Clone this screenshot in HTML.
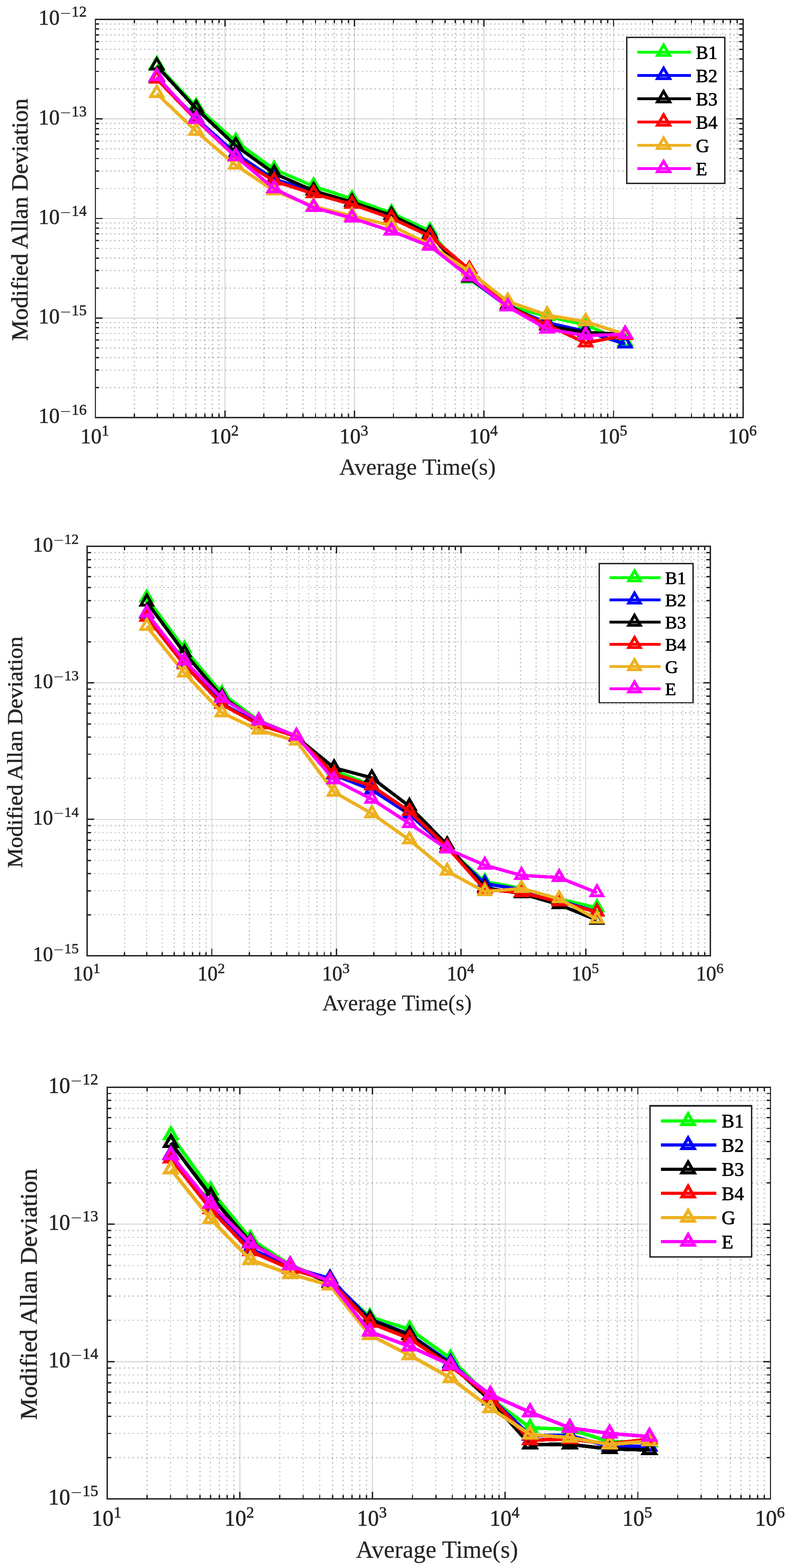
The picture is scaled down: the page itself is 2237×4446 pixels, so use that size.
<!DOCTYPE html>
<html lang="en">
<head>
<meta charset="utf-8">
<title>Modified Allan Deviation</title>
<style>
html,body{margin:0;padding:0;background:#fff;}
body{width:2237px;height:4446px;overflow:hidden;}
svg{display:block;}
</style>
</head>
<body>
<svg width="2237" height="4446" viewBox="0 0 2237 4446">
<rect width="2237" height="4446" fill="#fff"/>
<g shape-rendering="crispEdges">
<g fill="none" stroke="#1a1a1a" stroke-opacity="0.25" stroke-width="3.6">
<path stroke-dasharray="4 8.08" stroke-dashoffset="-1.97" d="M381.05 55V1184M445.72 55V1184M491.6 55V1184M527.19 55V1184M556.27 55V1184M580.85 55V1184M602.15 55V1184M620.94 55V1184M748.29 55V1184M812.96 55V1184M858.84 55V1184M894.43 55V1184M923.51 55V1184M948.09 55V1184M969.39 55V1184M988.18 55V1184M1115.53 55V1184M1180.2 55V1184M1226.08 55V1184M1261.67 55V1184M1290.75 55V1184M1315.33 55V1184M1336.63 55V1184M1355.42 55V1184M1482.77 55V1184M1547.44 55V1184M1593.32 55V1184M1628.91 55V1184M1657.99 55V1184M1682.57 55V1184M1703.87 55V1184M1722.66 55V1184M1850.01 55V1184M1914.68 55V1184M1960.56 55V1184M1996.15 55V1184M2025.23 55V1184M2049.81 55V1184M2071.11 55V1184M2089.9 55V1184"/>
<path stroke-dasharray="4 8.1" stroke-dashoffset="-5.3" d="M270.5 1099.03H2106.7M270.5 1049.33H2106.7M270.5 1014.07H2106.7M270.5 986.72H2106.7M270.5 964.37H2106.7M270.5 945.47H2106.7M270.5 929.1H2106.7M270.5 914.67H2106.7M270.5 816.78H2106.7M270.5 767.08H2106.7M270.5 731.82H2106.7M270.5 704.47H2106.7M270.5 682.12H2106.7M270.5 663.22H2106.7M270.5 646.85H2106.7M270.5 632.42H2106.7M270.5 534.53H2106.7M270.5 484.83H2106.7M270.5 449.57H2106.7M270.5 422.22H2106.7M270.5 399.87H2106.7M270.5 380.97H2106.7M270.5 364.6H2106.7M270.5 350.17H2106.7M270.5 252.28H2106.7M270.5 202.58H2106.7M270.5 167.32H2106.7M270.5 139.97H2106.7M270.5 117.62H2106.7M270.5 98.72H2106.7M270.5 82.35H2106.7M270.5 67.92H2106.7"/>
</g>
<g fill="none" stroke="#262626" stroke-opacity="0.15" stroke-width="3.6"><path d="M270.5 55V1184M637.74 55V1184M1004.98 55V1184M1372.22 55V1184M1739.46 55V1184M2106.7 55V1184"/><path d="M270.5 55H2106.7M270.5 337.25H2106.7M270.5 619.5H2106.7M270.5 901.75H2106.7M270.5 1184H2106.7"/></g>
<g fill="none" stroke-width="8.2" stroke-miterlimit="10">
<g stroke="#00ff00">
<polyline stroke-width="9.4" stroke-linejoin="round" points="444.6,184.1 556.2,302 668.4,401.05 777.2,480.1 889,528 998,564.2 1109.8,604 1219,655 1330.8,791.4 1439.65,867.8 1551.5,897.2 1660.5,921 1772.5,969.5"/>
<path stroke-linejoin="miter" d="M444.6 163.2L462.1 192.76L427.1 192.76ZM556.2 281.1L573.7 310.66L538.7 310.66ZM668.4 380.15L685.9 409.71L650.9 409.71ZM777.2 459.2L794.7 488.76L759.7 488.76ZM889 507.1L906.5 536.66L871.5 536.66ZM998 543.3L1015.5 572.86L980.5 572.86ZM1109.8 583.1L1127.3 612.66L1092.3 612.66ZM1219 634.1L1236.5 663.66L1201.5 663.66ZM1330.8 770.5L1348.3 800.06L1313.3 800.06ZM1439.65 846.9L1457.15 876.46L1422.15 876.46ZM1551.5 876.3L1569 905.86L1534 905.86ZM1660.5 900.1L1678 929.66L1643 929.66ZM1772.5 948.6L1790 978.16L1755 978.16Z"/>
</g>
<g stroke="#0000ff">
<polyline stroke-width="9.4" stroke-linejoin="round" points="444.6,220 556.2,335.6 668.4,435.5 777.2,508.5 889,541.5 998,574.5 1109.8,611 1219,663 1330.8,788.5 1439.65,870 1551.5,915.1 1660.5,939.5 1772.5,975.4"/>
<path stroke-linejoin="miter" d="M444.6 199.1L462.1 228.66L427.1 228.66ZM556.2 314.7L573.7 344.26L538.7 344.26ZM668.4 414.6L685.9 444.16L650.9 444.16ZM777.2 487.6L794.7 517.16L759.7 517.16ZM889 520.6L906.5 550.16L871.5 550.16ZM998 553.6L1015.5 583.16L980.5 583.16ZM1109.8 590.1L1127.3 619.66L1092.3 619.66ZM1219 642.1L1236.5 671.66L1201.5 671.66ZM1330.8 767.6L1348.3 797.16L1313.3 797.16ZM1439.65 849.1L1457.15 878.66L1422.15 878.66ZM1551.5 894.2L1569 923.76L1534 923.76ZM1660.5 918.6L1678 948.16L1643 948.16ZM1772.5 954.5L1790 984.06L1755 984.06Z"/>
</g>
<g stroke="#000000">
<polyline stroke-width="9.4" stroke-linejoin="round" points="444.6,187.3 556.2,308.1 668.4,413.2 777.2,491.7 889,540.8 998,573.5 1109.8,610.5 1219,664.3 1330.8,788.4 1439.65,864.5 1551.5,924.4 1660.5,942.5 1772.5,948"/>
<path stroke-linejoin="miter" d="M444.6 166.4L462.1 195.96L427.1 195.96ZM556.2 287.2L573.7 316.76L538.7 316.76ZM668.4 392.3L685.9 421.86L650.9 421.86ZM777.2 470.8L794.7 500.36L759.7 500.36ZM889 519.9L906.5 549.46L871.5 549.46ZM998 552.6L1015.5 582.16L980.5 582.16ZM1109.8 589.6L1127.3 619.16L1092.3 619.16ZM1219 643.4L1236.5 672.96L1201.5 672.96ZM1330.8 767.5L1348.3 797.06L1313.3 797.06ZM1439.65 843.6L1457.15 873.16L1422.15 873.16ZM1551.5 903.5L1569 933.06L1534 933.06ZM1660.5 921.6L1678 951.16L1643 951.16ZM1772.5 927.1L1790 956.66L1755 956.66Z"/>
</g>
<g stroke="#ff0000">
<polyline stroke-width="9.4" stroke-linejoin="round" points="444.6,224.1 556.2,339.7 668.4,445 777.2,513.5 889,549.5 998,579.5 1109.8,618.6 1219,669.8 1330.8,764.2 1439.65,869.3 1551.5,921.5 1660.5,972.3 1772.5,951"/>
<path stroke-linejoin="miter" d="M444.6 203.2L462.1 232.76L427.1 232.76ZM556.2 318.8L573.7 348.36L538.7 348.36ZM668.4 424.1L685.9 453.66L650.9 453.66ZM777.2 492.6L794.7 522.16L759.7 522.16ZM889 528.6L906.5 558.16L871.5 558.16ZM998 558.6L1015.5 588.16L980.5 588.16ZM1109.8 597.7L1127.3 627.26L1092.3 627.26ZM1219 648.9L1236.5 678.46L1201.5 678.46ZM1330.8 743.3L1348.3 772.86L1313.3 772.86ZM1439.65 848.4L1457.15 877.96L1422.15 877.96ZM1551.5 900.6L1569 930.16L1534 930.16ZM1660.5 951.4L1678 980.96L1643 980.96ZM1772.5 930.1L1790 959.66L1755 959.66Z"/>
</g>
<g stroke="#edb120">
<polyline stroke-width="9.4" stroke-linejoin="round" points="444.6,265.5 556.2,372.3 668.4,468.2 777.2,541 889,585.2 998,612.3 1109.8,639.8 1219,694 1330.8,770.1 1439.65,854.5 1551.5,893.5 1660.5,912.1 1772.5,948"/>
<path stroke-linejoin="miter" d="M444.6 244.6L462.1 274.16L427.1 274.16ZM556.2 351.4L573.7 380.96L538.7 380.96ZM668.4 447.3L685.9 476.86L650.9 476.86ZM777.2 520.1L794.7 549.66L759.7 549.66ZM889 564.3L906.5 593.86L871.5 593.86ZM998 591.4L1015.5 620.96L980.5 620.96ZM1109.8 618.9L1127.3 648.46L1092.3 648.46ZM1219 673.1L1236.5 702.66L1201.5 702.66ZM1330.8 749.2L1348.3 778.76L1313.3 778.76ZM1439.65 833.6L1457.15 863.16L1422.15 863.16ZM1551.5 872.6L1569 902.16L1534 902.16ZM1660.5 891.2L1678 920.76L1643 920.76ZM1772.5 927.1L1790 956.66L1755 956.66Z"/>
</g>
<g stroke="#ff00ff">
<polyline stroke-width="9.4" stroke-linejoin="round" points="444.6,217.3 556.2,338.2 668.4,444 777.2,535 889,588.6 998,618.5 1109.8,655 1219,697.8 1330.8,785.2 1439.65,869.8 1551.5,933.1 1660.5,951.3 1772.5,948"/>
<path stroke-linejoin="miter" d="M444.6 196.4L462.1 225.96L427.1 225.96ZM556.2 317.3L573.7 346.86L538.7 346.86ZM668.4 423.1L685.9 452.66L650.9 452.66ZM777.2 514.1L794.7 543.66L759.7 543.66ZM889 567.7L906.5 597.26L871.5 597.26ZM998 597.6L1015.5 627.16L980.5 627.16ZM1109.8 634.1L1127.3 663.66L1092.3 663.66ZM1219 676.9L1236.5 706.46L1201.5 706.46ZM1330.8 764.3L1348.3 793.86L1313.3 793.86ZM1439.65 848.9L1457.15 878.46L1422.15 878.46ZM1551.5 912.2L1569 941.76L1534 941.76ZM1660.5 930.4L1678 959.96L1643 959.96ZM1772.5 927.1L1790 956.66L1755 956.66Z"/>
</g>
</g>
<path fill="none" stroke="#262626" stroke-width="3.8" d="M381.05 1184v-10.6M381.05 55v10.6M445.72 1184v-10.6M445.72 55v10.6M491.6 1184v-10.6M491.6 55v10.6M527.19 1184v-10.6M527.19 55v10.6M556.27 1184v-10.6M556.27 55v10.6M580.85 1184v-10.6M580.85 55v10.6M602.15 1184v-10.6M602.15 55v10.6M620.94 1184v-10.6M620.94 55v10.6M637.74 1184v-20M637.74 55v20M748.29 1184v-10.6M748.29 55v10.6M812.96 1184v-10.6M812.96 55v10.6M858.84 1184v-10.6M858.84 55v10.6M894.43 1184v-10.6M894.43 55v10.6M923.51 1184v-10.6M923.51 55v10.6M948.09 1184v-10.6M948.09 55v10.6M969.39 1184v-10.6M969.39 55v10.6M988.18 1184v-10.6M988.18 55v10.6M1004.98 1184v-20M1004.98 55v20M1115.53 1184v-10.6M1115.53 55v10.6M1180.2 1184v-10.6M1180.2 55v10.6M1226.08 1184v-10.6M1226.08 55v10.6M1261.67 1184v-10.6M1261.67 55v10.6M1290.75 1184v-10.6M1290.75 55v10.6M1315.33 1184v-10.6M1315.33 55v10.6M1336.63 1184v-10.6M1336.63 55v10.6M1355.42 1184v-10.6M1355.42 55v10.6M1372.22 1184v-20M1372.22 55v20M1482.77 1184v-10.6M1482.77 55v10.6M1547.44 1184v-10.6M1547.44 55v10.6M1593.32 1184v-10.6M1593.32 55v10.6M1628.91 1184v-10.6M1628.91 55v10.6M1657.99 1184v-10.6M1657.99 55v10.6M1682.57 1184v-10.6M1682.57 55v10.6M1703.87 1184v-10.6M1703.87 55v10.6M1722.66 1184v-10.6M1722.66 55v10.6M1739.46 1184v-20M1739.46 55v20M1850.01 1184v-10.6M1850.01 55v10.6M1914.68 1184v-10.6M1914.68 55v10.6M1960.56 1184v-10.6M1960.56 55v10.6M1996.15 1184v-10.6M1996.15 55v10.6M2025.23 1184v-10.6M2025.23 55v10.6M2049.81 1184v-10.6M2049.81 55v10.6M2071.11 1184v-10.6M2071.11 55v10.6M2089.9 1184v-10.6M2089.9 55v10.6M270.5 1099.03h10.6M2106.7 1099.03h-10.6M270.5 1049.33h10.6M2106.7 1049.33h-10.6M270.5 1014.07h10.6M2106.7 1014.07h-10.6M270.5 986.72h10.6M2106.7 986.72h-10.6M270.5 964.37h10.6M2106.7 964.37h-10.6M270.5 945.47h10.6M2106.7 945.47h-10.6M270.5 929.1h10.6M2106.7 929.1h-10.6M270.5 914.67h10.6M2106.7 914.67h-10.6M270.5 901.75h20M2106.7 901.75h-20M270.5 816.78h10.6M2106.7 816.78h-10.6M270.5 767.08h10.6M2106.7 767.08h-10.6M270.5 731.82h10.6M2106.7 731.82h-10.6M270.5 704.47h10.6M2106.7 704.47h-10.6M270.5 682.12h10.6M2106.7 682.12h-10.6M270.5 663.22h10.6M2106.7 663.22h-10.6M270.5 646.85h10.6M2106.7 646.85h-10.6M270.5 632.42h10.6M2106.7 632.42h-10.6M270.5 619.5h20M2106.7 619.5h-20M270.5 534.53h10.6M2106.7 534.53h-10.6M270.5 484.83h10.6M2106.7 484.83h-10.6M270.5 449.57h10.6M2106.7 449.57h-10.6M270.5 422.22h10.6M2106.7 422.22h-10.6M270.5 399.87h10.6M2106.7 399.87h-10.6M270.5 380.97h10.6M2106.7 380.97h-10.6M270.5 364.6h10.6M2106.7 364.6h-10.6M270.5 350.17h10.6M2106.7 350.17h-10.6M270.5 337.25h20M2106.7 337.25h-20M270.5 252.28h10.6M2106.7 252.28h-10.6M270.5 202.58h10.6M2106.7 202.58h-10.6M270.5 167.32h10.6M2106.7 167.32h-10.6M270.5 139.97h10.6M2106.7 139.97h-10.6M270.5 117.62h10.6M2106.7 117.62h-10.6M270.5 98.72h10.6M2106.7 98.72h-10.6M270.5 82.35h10.6M2106.7 82.35h-10.6M270.5 67.92h10.6M2106.7 67.92h-10.6"/>
<rect x="270.5" y="55" width="1836.2" height="1129" fill="none" stroke="#262626" stroke-width="3.8"/>
<g fill="#262626" stroke="#262626" stroke-width="0.9" stroke-linejoin="round" font-family="'Liberation Serif', serif">
<text x="228.1" y="1257" font-size="61.7" textLength="59.85" lengthAdjust="spacingAndGlyphs">10</text>
<text x="288.1" y="1235.3" font-size="43">1</text>
<text x="595.34" y="1257" font-size="61.7" textLength="59.85" lengthAdjust="spacingAndGlyphs">10</text>
<text x="655.34" y="1235.3" font-size="43">2</text>
<text x="962.58" y="1257" font-size="61.7" textLength="59.85" lengthAdjust="spacingAndGlyphs">10</text>
<text x="1022.58" y="1235.3" font-size="43">3</text>
<text x="1329.82" y="1257" font-size="61.7" textLength="59.85" lengthAdjust="spacingAndGlyphs">10</text>
<text x="1389.82" y="1235.3" font-size="43">4</text>
<text x="1697.06" y="1257" font-size="61.7" textLength="59.85" lengthAdjust="spacingAndGlyphs">10</text>
<text x="1757.06" y="1235.3" font-size="43">5</text>
<text x="2064.3" y="1257" font-size="61.7" textLength="59.85" lengthAdjust="spacingAndGlyphs">10</text>
<text x="2124.3" y="1235.3" font-size="43">6</text>
<text x="109.3" y="70.3" font-size="61.7" textLength="59.85" lengthAdjust="spacingAndGlyphs">10</text>
<text x="170.4" y="52" font-size="43" stroke="none" textLength="31.05" lengthAdjust="spacingAndGlyphs">−</text>
<text x="202.8" y="47.3" font-size="43">12</text>
<text x="109.3" y="352.55" font-size="61.7" textLength="59.85" lengthAdjust="spacingAndGlyphs">10</text>
<text x="170.4" y="334.25" font-size="43" stroke="none" textLength="31.05" lengthAdjust="spacingAndGlyphs">−</text>
<text x="202.8" y="329.55" font-size="43">13</text>
<text x="109.3" y="634.8" font-size="61.7" textLength="59.85" lengthAdjust="spacingAndGlyphs">10</text>
<text x="170.4" y="616.5" font-size="43" stroke="none" textLength="31.05" lengthAdjust="spacingAndGlyphs">−</text>
<text x="202.8" y="611.8" font-size="43">14</text>
<text x="109.3" y="917.05" font-size="61.7" textLength="59.85" lengthAdjust="spacingAndGlyphs">10</text>
<text x="170.4" y="898.75" font-size="43" stroke="none" textLength="31.05" lengthAdjust="spacingAndGlyphs">−</text>
<text x="202.8" y="894.05" font-size="43">15</text>
<text x="109.3" y="1199.3" font-size="61.7" textLength="59.85" lengthAdjust="spacingAndGlyphs">10</text>
<text x="170.4" y="1181" font-size="43" stroke="none" textLength="31.05" lengthAdjust="spacingAndGlyphs">−</text>
<text x="202.8" y="1176.3" font-size="43">16</text>
<text x="1183.6" y="1345.5" font-size="66.5" stroke-width="0.3" text-anchor="middle">Average Time(s)</text>
<text transform="translate(77.5 622.8) rotate(-90)" font-size="64.5" text-anchor="middle" textLength="687.2" lengthAdjust="spacingAndGlyphs">Modified Allan Deviation</text>
</g>
<rect x="1777.3" y="106.2" width="277.6" height="413.5" fill="#fff" stroke="#262626" stroke-width="3.9"/>
<g fill="none" stroke-width="8.2" stroke-miterlimit="10">
<path stroke="#00ff00" d="M1807 148H1959M1881.5 127.1L1899 156.66L1864 156.66Z"/>
<path stroke="#0000ff" d="M1807 214H1959M1881.5 193.1L1899 222.66L1864 222.66Z"/>
<path stroke="#000000" d="M1807 280H1959M1881.5 259.1L1899 288.66L1864 288.66Z"/>
<path stroke="#ff0000" d="M1807 346H1959M1881.5 325.1L1899 354.66L1864 354.66Z"/>
<path stroke="#edb120" d="M1807 412H1959M1881.5 391.1L1899 420.66L1864 420.66Z"/>
<path stroke="#ff00ff" d="M1807 478H1959M1881.5 457.1L1899 486.66L1864 486.66Z"/>
</g>
<g fill="#000" stroke="#000" stroke-width="1.2" stroke-linejoin="round" font-family="'Liberation Serif', serif" font-size="52.5">
<text x="1973" y="167">B1</text>
<text x="1973" y="233">B2</text>
<text x="1973" y="299">B3</text>
<text x="1973" y="365">B4</text>
<text x="1973" y="431">G</text>
<text x="1973" y="497">E</text>
</g>
</g>
<g shape-rendering="crispEdges">
<g fill="none" stroke="#1a1a1a" stroke-opacity="0.25" stroke-width="3.4">
<path stroke-dasharray="3.7 7.82" stroke-dashoffset="-5.31" d="M353.39 1549.1V2710.3M415.62 1549.1V2710.3M459.78 1549.1V2710.3M494.03 1549.1V2710.3M522.01 1549.1V2710.3M545.67 1549.1V2710.3M566.17 1549.1V2710.3M584.25 1549.1V2710.3M706.81 1549.1V2710.3M769.04 1549.1V2710.3M813.2 1549.1V2710.3M847.45 1549.1V2710.3M875.43 1549.1V2710.3M899.09 1549.1V2710.3M919.59 1549.1V2710.3M937.67 1549.1V2710.3M1060.23 1549.1V2710.3M1122.46 1549.1V2710.3M1166.62 1549.1V2710.3M1200.87 1549.1V2710.3M1228.85 1549.1V2710.3M1252.51 1549.1V2710.3M1273.01 1549.1V2710.3M1291.09 1549.1V2710.3M1413.65 1549.1V2710.3M1475.88 1549.1V2710.3M1520.04 1549.1V2710.3M1554.29 1549.1V2710.3M1582.27 1549.1V2710.3M1605.93 1549.1V2710.3M1626.43 1549.1V2710.3M1644.51 1549.1V2710.3M1767.07 1549.1V2710.3M1829.3 1549.1V2710.3M1873.46 1549.1V2710.3M1907.71 1549.1V2710.3M1935.69 1549.1V2710.3M1959.35 1549.1V2710.3M1979.85 1549.1V2710.3M1997.93 1549.1V2710.3"/>
<path stroke-dasharray="3.7 7.85" stroke-dashoffset="-8.59" d="M247 2593.78H2014.1M247 2525.62H2014.1M247 2477.26H2014.1M247 2439.75H2014.1M247 2409.1H2014.1M247 2383.19H2014.1M247 2360.74H2014.1M247 2340.94H2014.1M247 2206.71H2014.1M247 2138.56H2014.1M247 2090.2H2014.1M247 2052.69H2014.1M247 2022.04H2014.1M247 1996.12H2014.1M247 1973.68H2014.1M247 1953.88H2014.1M247 1819.65H2014.1M247 1751.49H2014.1M247 1703.13H2014.1M247 1665.62H2014.1M247 1634.97H2014.1M247 1609.06H2014.1M247 1586.61H2014.1M247 1566.81H2014.1"/>
</g>
<g fill="none" stroke="#262626" stroke-opacity="0.15" stroke-width="3.4"><path d="M247 1549.1V2710.3M600.42 1549.1V2710.3M953.84 1549.1V2710.3M1307.26 1549.1V2710.3M1660.68 1549.1V2710.3M2014.1 1549.1V2710.3"/><path d="M247 1549.1H2014.1M247 1936.17H2014.1M247 2323.23H2014.1M247 2710.3H2014.1"/></g>
<g fill="none" stroke-width="8.1" stroke-miterlimit="10">
<g stroke="#00ff00">
<polyline stroke-width="9.4" stroke-linejoin="round" points="416,1695.6 522.8,1839.7 629.4,1966.2 733.5,2043 840.4,2087.3 947.2,2184.7 1054.2,2227 1160.8,2308 1267.8,2404 1374.6,2500.1 1478.5,2519 1585.3,2549 1692.5,2574"/>
<path stroke-linejoin="miter" d="M416 1675.7L432.45 1704.3L399.55 1704.3ZM522.8 1819.8L539.25 1848.4L506.35 1848.4ZM629.4 1946.3L645.85 1974.9L612.95 1974.9ZM733.5 2023.1L749.95 2051.7L717.05 2051.7ZM840.4 2067.4L856.85 2096L823.95 2096ZM947.2 2164.8L963.65 2193.4L930.75 2193.4ZM1054.2 2207.1L1070.65 2235.7L1037.75 2235.7ZM1160.8 2288.1L1177.25 2316.7L1144.35 2316.7ZM1267.8 2384.1L1284.25 2412.7L1251.35 2412.7ZM1374.6 2480.2L1391.05 2508.8L1358.15 2508.8ZM1478.5 2499.1L1494.95 2527.7L1462.05 2527.7ZM1585.3 2529.1L1601.75 2557.7L1568.85 2557.7ZM1692.5 2554.1L1708.95 2582.7L1676.05 2582.7Z"/>
</g>
<g stroke="#0000ff">
<polyline stroke-width="9.4" stroke-linejoin="round" points="416,1741 522.8,1880 629.4,1995.1 733.5,2052.2 840.4,2088 947.2,2197.2 1054.2,2239.8 1160.8,2308.8 1267.8,2404.5 1374.6,2505.4 1478.5,2522.5 1585.3,2553.5 1692.5,2585.5"/>
<path stroke-linejoin="miter" d="M416 1721.1L432.45 1749.7L399.55 1749.7ZM522.8 1860.1L539.25 1888.7L506.35 1888.7ZM629.4 1975.2L645.85 2003.8L612.95 2003.8ZM733.5 2032.3L749.95 2060.9L717.05 2060.9ZM840.4 2068.1L856.85 2096.7L823.95 2096.7ZM947.2 2177.3L963.65 2205.9L930.75 2205.9ZM1054.2 2219.9L1070.65 2248.5L1037.75 2248.5ZM1160.8 2288.9L1177.25 2317.5L1144.35 2317.5ZM1267.8 2384.6L1284.25 2413.2L1251.35 2413.2ZM1374.6 2485.5L1391.05 2514.1L1358.15 2514.1ZM1478.5 2502.6L1494.95 2531.2L1462.05 2531.2ZM1585.3 2533.6L1601.75 2562.2L1568.85 2562.2ZM1692.5 2565.6L1708.95 2594.2L1676.05 2594.2Z"/>
</g>
<g stroke="#000000">
<polyline stroke-width="9.4" stroke-linejoin="round" points="416,1707 522.8,1851.1 629.4,1975.5 733.5,2046.5 840.4,2090 947.2,2177 1054.2,2205.5 1160.8,2286 1267.8,2395.5 1374.6,2517 1478.5,2533.9 1585.3,2565.1 1692.5,2609"/>
<path stroke-linejoin="miter" d="M416 1687.1L432.45 1715.7L399.55 1715.7ZM522.8 1831.2L539.25 1859.8L506.35 1859.8ZM629.4 1955.6L645.85 1984.2L612.95 1984.2ZM733.5 2026.6L749.95 2055.2L717.05 2055.2ZM840.4 2070.1L856.85 2098.7L823.95 2098.7ZM947.2 2157.1L963.65 2185.7L930.75 2185.7ZM1054.2 2185.6L1070.65 2214.2L1037.75 2214.2ZM1160.8 2266.1L1177.25 2294.7L1144.35 2294.7ZM1267.8 2375.6L1284.25 2404.2L1251.35 2404.2ZM1374.6 2497.1L1391.05 2525.7L1358.15 2525.7ZM1478.5 2514L1494.95 2542.6L1462.05 2542.6ZM1585.3 2545.2L1601.75 2573.8L1568.85 2573.8ZM1692.5 2589.1L1708.95 2617.7L1676.05 2617.7Z"/>
</g>
<g stroke="#ff0000">
<polyline stroke-width="9.4" stroke-linejoin="round" points="416,1750 522.8,1885.2 629.4,1997.7 733.5,2054.8 840.4,2088.5 947.2,2194.2 1054.2,2228.5 1160.8,2300.6 1267.8,2402 1374.6,2522.4 1478.5,2531 1585.3,2557 1692.5,2586"/>
<path stroke-linejoin="miter" d="M416 1730.1L432.45 1758.7L399.55 1758.7ZM522.8 1865.3L539.25 1893.9L506.35 1893.9ZM629.4 1977.8L645.85 2006.4L612.95 2006.4ZM733.5 2034.9L749.95 2063.5L717.05 2063.5ZM840.4 2068.6L856.85 2097.2L823.95 2097.2ZM947.2 2174.3L963.65 2202.9L930.75 2202.9ZM1054.2 2208.6L1070.65 2237.2L1037.75 2237.2ZM1160.8 2280.7L1177.25 2309.3L1144.35 2309.3ZM1267.8 2382.1L1284.25 2410.7L1251.35 2410.7ZM1374.6 2502.5L1391.05 2531.1L1358.15 2531.1ZM1478.5 2511.1L1494.95 2539.7L1462.05 2539.7ZM1585.3 2537.1L1601.75 2565.7L1568.85 2565.7ZM1692.5 2566.1L1708.95 2594.7L1676.05 2594.7Z"/>
</g>
<g stroke="#edb120">
<polyline stroke-width="9.4" stroke-linejoin="round" points="416,1776.1 522.8,1908.1 629.4,2021.3 733.5,2069.8 840.4,2101 947.2,2245.9 1054.2,2306.8 1160.8,2381.5 1267.8,2470.4 1374.6,2528.2 1478.5,2519.2 1585.3,2548.7 1692.5,2606.3"/>
<path stroke-linejoin="miter" d="M416 1756.2L432.45 1784.8L399.55 1784.8ZM522.8 1888.2L539.25 1916.8L506.35 1916.8ZM629.4 2001.4L645.85 2030L612.95 2030ZM733.5 2049.9L749.95 2078.5L717.05 2078.5ZM840.4 2081.1L856.85 2109.7L823.95 2109.7ZM947.2 2226L963.65 2254.6L930.75 2254.6ZM1054.2 2286.9L1070.65 2315.5L1037.75 2315.5ZM1160.8 2361.6L1177.25 2390.2L1144.35 2390.2ZM1267.8 2450.5L1284.25 2479.1L1251.35 2479.1ZM1374.6 2508.3L1391.05 2536.9L1358.15 2536.9ZM1478.5 2499.3L1494.95 2527.9L1462.05 2527.9ZM1585.3 2528.8L1601.75 2557.4L1568.85 2557.4ZM1692.5 2586.4L1708.95 2615L1676.05 2615Z"/>
</g>
<g stroke="#ff00ff">
<polyline stroke-width="9.4" stroke-linejoin="round" points="416,1738.5 522.8,1874.1 629.4,1980.2 733.5,2044 840.4,2087.1 947.2,2211.1 1054.2,2266 1160.8,2335 1267.8,2407.1 1374.6,2453.2 1478.5,2482.2 1585.3,2488.1 1692.5,2531.2"/>
<path stroke-linejoin="miter" d="M416 1718.6L432.45 1747.2L399.55 1747.2ZM522.8 1854.2L539.25 1882.8L506.35 1882.8ZM629.4 1960.3L645.85 1988.9L612.95 1988.9ZM733.5 2024.1L749.95 2052.7L717.05 2052.7ZM840.4 2067.2L856.85 2095.8L823.95 2095.8ZM947.2 2191.2L963.65 2219.8L930.75 2219.8ZM1054.2 2246.1L1070.65 2274.7L1037.75 2274.7ZM1160.8 2315.1L1177.25 2343.7L1144.35 2343.7ZM1267.8 2387.2L1284.25 2415.8L1251.35 2415.8ZM1374.6 2433.3L1391.05 2461.9L1358.15 2461.9ZM1478.5 2462.3L1494.95 2490.9L1462.05 2490.9ZM1585.3 2468.2L1601.75 2496.8L1568.85 2496.8ZM1692.5 2511.3L1708.95 2539.9L1676.05 2539.9Z"/>
</g>
</g>
<path fill="none" stroke="#262626" stroke-width="3.8" d="M353.39 2710.3v-10.8M353.39 1549.1v10.8M415.62 2710.3v-10.8M415.62 1549.1v10.8M459.78 2710.3v-10.8M459.78 1549.1v10.8M494.03 2710.3v-10.8M494.03 1549.1v10.8M522.01 2710.3v-10.8M522.01 1549.1v10.8M545.67 2710.3v-10.8M545.67 1549.1v10.8M566.17 2710.3v-10.8M566.17 1549.1v10.8M584.25 2710.3v-10.8M584.25 1549.1v10.8M600.42 2710.3v-20M600.42 1549.1v20M706.81 2710.3v-10.8M706.81 1549.1v10.8M769.04 2710.3v-10.8M769.04 1549.1v10.8M813.2 2710.3v-10.8M813.2 1549.1v10.8M847.45 2710.3v-10.8M847.45 1549.1v10.8M875.43 2710.3v-10.8M875.43 1549.1v10.8M899.09 2710.3v-10.8M899.09 1549.1v10.8M919.59 2710.3v-10.8M919.59 1549.1v10.8M937.67 2710.3v-10.8M937.67 1549.1v10.8M953.84 2710.3v-20M953.84 1549.1v20M1060.23 2710.3v-10.8M1060.23 1549.1v10.8M1122.46 2710.3v-10.8M1122.46 1549.1v10.8M1166.62 2710.3v-10.8M1166.62 1549.1v10.8M1200.87 2710.3v-10.8M1200.87 1549.1v10.8M1228.85 2710.3v-10.8M1228.85 1549.1v10.8M1252.51 2710.3v-10.8M1252.51 1549.1v10.8M1273.01 2710.3v-10.8M1273.01 1549.1v10.8M1291.09 2710.3v-10.8M1291.09 1549.1v10.8M1307.26 2710.3v-20M1307.26 1549.1v20M1413.65 2710.3v-10.8M1413.65 1549.1v10.8M1475.88 2710.3v-10.8M1475.88 1549.1v10.8M1520.04 2710.3v-10.8M1520.04 1549.1v10.8M1554.29 2710.3v-10.8M1554.29 1549.1v10.8M1582.27 2710.3v-10.8M1582.27 1549.1v10.8M1605.93 2710.3v-10.8M1605.93 1549.1v10.8M1626.43 2710.3v-10.8M1626.43 1549.1v10.8M1644.51 2710.3v-10.8M1644.51 1549.1v10.8M1660.68 2710.3v-20M1660.68 1549.1v20M1767.07 2710.3v-10.8M1767.07 1549.1v10.8M1829.3 2710.3v-10.8M1829.3 1549.1v10.8M1873.46 2710.3v-10.8M1873.46 1549.1v10.8M1907.71 2710.3v-10.8M1907.71 1549.1v10.8M1935.69 2710.3v-10.8M1935.69 1549.1v10.8M1959.35 2710.3v-10.8M1959.35 1549.1v10.8M1979.85 2710.3v-10.8M1979.85 1549.1v10.8M1997.93 2710.3v-10.8M1997.93 1549.1v10.8M247 2593.78h10.8M2014.1 2593.78h-10.8M247 2525.62h10.8M2014.1 2525.62h-10.8M247 2477.26h10.8M2014.1 2477.26h-10.8M247 2439.75h10.8M2014.1 2439.75h-10.8M247 2409.1h10.8M2014.1 2409.1h-10.8M247 2383.19h10.8M2014.1 2383.19h-10.8M247 2360.74h10.8M2014.1 2360.74h-10.8M247 2340.94h10.8M2014.1 2340.94h-10.8M247 2323.23h20M2014.1 2323.23h-20M247 2206.71h10.8M2014.1 2206.71h-10.8M247 2138.56h10.8M2014.1 2138.56h-10.8M247 2090.2h10.8M2014.1 2090.2h-10.8M247 2052.69h10.8M2014.1 2052.69h-10.8M247 2022.04h10.8M2014.1 2022.04h-10.8M247 1996.12h10.8M2014.1 1996.12h-10.8M247 1973.68h10.8M2014.1 1973.68h-10.8M247 1953.88h10.8M2014.1 1953.88h-10.8M247 1936.17h20M2014.1 1936.17h-20M247 1819.65h10.8M2014.1 1819.65h-10.8M247 1751.49h10.8M2014.1 1751.49h-10.8M247 1703.13h10.8M2014.1 1703.13h-10.8M247 1665.62h10.8M2014.1 1665.62h-10.8M247 1634.97h10.8M2014.1 1634.97h-10.8M247 1609.06h10.8M2014.1 1609.06h-10.8M247 1586.61h10.8M2014.1 1586.61h-10.8M247 1566.81h10.8M2014.1 1566.81h-10.8"/>
<rect x="247" y="1549.1" width="1767.1" height="1161.2" fill="none" stroke="#262626" stroke-width="3.8"/>
<g fill="#262626" stroke="#262626" stroke-width="0.86" stroke-linejoin="round" font-family="'Liberation Serif', serif">
<text x="206.51" y="2780.02" font-size="58.92" textLength="57.16" lengthAdjust="spacingAndGlyphs">10</text>
<text x="263.81" y="2759.29" font-size="41.06">1</text>
<text x="559.93" y="2780.02" font-size="58.92" textLength="57.16" lengthAdjust="spacingAndGlyphs">10</text>
<text x="617.23" y="2759.29" font-size="41.06">2</text>
<text x="913.35" y="2780.02" font-size="58.92" textLength="57.16" lengthAdjust="spacingAndGlyphs">10</text>
<text x="970.65" y="2759.29" font-size="41.06">3</text>
<text x="1266.77" y="2780.02" font-size="58.92" textLength="57.16" lengthAdjust="spacingAndGlyphs">10</text>
<text x="1324.07" y="2759.29" font-size="41.06">4</text>
<text x="1620.19" y="2780.02" font-size="58.92" textLength="57.16" lengthAdjust="spacingAndGlyphs">10</text>
<text x="1677.49" y="2759.29" font-size="41.06">5</text>
<text x="1973.61" y="2780.02" font-size="58.92" textLength="57.16" lengthAdjust="spacingAndGlyphs">10</text>
<text x="2030.91" y="2759.29" font-size="41.06">6</text>
<text x="93.05" y="1563.71" font-size="58.92" textLength="57.16" lengthAdjust="spacingAndGlyphs">10</text>
<text x="151.4" y="1546.23" font-size="41.06" stroke="none" textLength="29.65" lengthAdjust="spacingAndGlyphs">−</text>
<text x="182.35" y="1541.75" font-size="41.06">12</text>
<text x="93.05" y="1950.78" font-size="58.92" textLength="57.16" lengthAdjust="spacingAndGlyphs">10</text>
<text x="151.4" y="1933.3" font-size="41.06" stroke="none" textLength="29.65" lengthAdjust="spacingAndGlyphs">−</text>
<text x="182.35" y="1928.81" font-size="41.06">13</text>
<text x="93.05" y="2337.84" font-size="58.92" textLength="57.16" lengthAdjust="spacingAndGlyphs">10</text>
<text x="151.4" y="2320.37" font-size="41.06" stroke="none" textLength="29.65" lengthAdjust="spacingAndGlyphs">−</text>
<text x="182.35" y="2315.88" font-size="41.06">14</text>
<text x="93.05" y="2724.91" font-size="58.92" textLength="57.16" lengthAdjust="spacingAndGlyphs">10</text>
<text x="151.4" y="2707.43" font-size="41.06" stroke="none" textLength="29.65" lengthAdjust="spacingAndGlyphs">−</text>
<text x="182.35" y="2702.95" font-size="41.06">15</text>
<text x="1125.77" y="2864.53" font-size="63.51" stroke-width="0.29" text-anchor="middle">Average Time(s)</text>
<text transform="translate(62.69 2132.85) rotate(-90)" font-size="61.6" text-anchor="middle" textLength="656.28" lengthAdjust="spacingAndGlyphs">Modified Allan Deviation</text>
</g>
<rect x="1699.3" y="1597.9" width="265.7" height="394.5" fill="#fff" stroke="#262626" stroke-width="3.72"/>
<g fill="none" stroke-width="8.1" stroke-miterlimit="10">
<path stroke="#00ff00" d="M1728 1638H1873.3M1799 1618.1L1815.45 1646.7L1782.55 1646.7Z"/>
<path stroke="#0000ff" d="M1728 1701H1873.3M1799 1681.1L1815.45 1709.7L1782.55 1709.7Z"/>
<path stroke="#000000" d="M1728 1764H1873.3M1799 1744.1L1815.45 1772.7L1782.55 1772.7Z"/>
<path stroke="#ff0000" d="M1728 1827H1873.3M1799 1807.1L1815.45 1835.7L1782.55 1835.7Z"/>
<path stroke="#edb120" d="M1728 1890H1873.3M1799 1870.1L1815.45 1898.7L1782.55 1898.7Z"/>
<path stroke="#ff00ff" d="M1728 1953H1873.3M1799 1933.1L1815.45 1961.7L1782.55 1961.7Z"/>
</g>
<g fill="#000" stroke="#000" stroke-width="1.2" stroke-linejoin="round" font-family="'Liberation Serif', serif" font-size="51">
<text x="1885.7" y="1656.2">B1</text>
<text x="1885.7" y="1719.2">B2</text>
<text x="1885.7" y="1782.2">B3</text>
<text x="1885.7" y="1845.2">B4</text>
<text x="1885.7" y="1908.2">G</text>
<text x="1885.7" y="1971.2">E</text>
</g>
</g>
<g shape-rendering="crispEdges">
<g fill="none" stroke="#1a1a1a" stroke-opacity="0.25" stroke-width="3.6">
<path stroke-dasharray="4 8.52" stroke-dashoffset="-11.64" d="M417.22 3082.7V4250M483.45 3082.7V4250M530.43 3082.7V4250M566.88 3082.7V4250M596.66 3082.7V4250M621.84 3082.7V4250M643.65 3082.7V4250M662.89 3082.7V4250M793.32 3082.7V4250M859.55 3082.7V4250M906.53 3082.7V4250M942.98 3082.7V4250M972.76 3082.7V4250M997.94 3082.7V4250M1019.75 3082.7V4250M1038.99 3082.7V4250M1169.42 3082.7V4250M1235.65 3082.7V4250M1282.63 3082.7V4250M1319.08 3082.7V4250M1348.86 3082.7V4250M1374.04 3082.7V4250M1395.85 3082.7V4250M1415.09 3082.7V4250M1545.52 3082.7V4250M1611.75 3082.7V4250M1658.73 3082.7V4250M1695.18 3082.7V4250M1724.96 3082.7V4250M1750.14 3082.7V4250M1771.95 3082.7V4250M1791.19 3082.7V4250M1921.62 3082.7V4250M1987.85 3082.7V4250M2034.83 3082.7V4250M2071.28 3082.7V4250M2101.06 3082.7V4250M2126.24 3082.7V4250M2148.05 3082.7V4250M2167.29 3082.7V4250"/>
<path stroke-dasharray="4 8.54" stroke-dashoffset="-9.4" d="M304 4132.87H2184.5M304 4064.35H2184.5M304 4015.74H2184.5M304 3978.03H2184.5M304 3947.22H2184.5M304 3921.17H2184.5M304 3898.61H2184.5M304 3878.7H2184.5M304 3743.5H2184.5M304 3674.82H2184.5M304 3626.1H2184.5M304 3588.3H2184.5M304 3557.42H2184.5M304 3531.31H2184.5M304 3508.69H2184.5M304 3488.75H2184.5M304 3354.04H2184.5M304 3285.68H2184.5M304 3237.18H2184.5M304 3199.56H2184.5M304 3168.82H2184.5M304 3142.83H2184.5M304 3120.32H2184.5M304 3100.46H2184.5"/>
</g>
<g fill="none" stroke="#262626" stroke-opacity="0.15" stroke-width="3.6"><path d="M304 3082.7V4250M680.1 3082.7V4250M1056.2 3082.7V4250M1432.3 3082.7V4250M1808.4 3082.7V4250M2184.5 3082.7V4250"/><path d="M304 3082.7H2184.5M304 3470.9H2184.5M304 3860.9H2184.5M304 4250H2184.5"/></g>
<g fill="none" stroke-width="9" stroke-miterlimit="10">
<g stroke="#00ff00">
<polyline stroke-width="10.2" stroke-linejoin="round" points="484.4,3218.6 597.2,3375.2 710,3512.6 822.65,3587 935.65,3632 1048.65,3734.4 1161.3,3769.2 1277.4,3851.5 1390.4,3965 1502.8,4048.5 1615.5,4053 1728.4,4087.5 1841.4,4089.3"/>
<path stroke-linejoin="miter" d="M484.4 3198.1L501.95 3228.5L466.85 3228.5ZM597.2 3354.7L614.75 3385.1L579.65 3385.1ZM710 3492.1L727.55 3522.5L692.45 3522.5ZM822.65 3566.5L840.2 3596.9L805.1 3596.9ZM935.65 3611.5L953.2 3641.9L918.1 3641.9ZM1048.65 3713.9L1066.2 3744.3L1031.1 3744.3ZM1161.3 3748.7L1178.85 3779.1L1143.75 3779.1ZM1277.4 3831L1294.95 3861.4L1259.85 3861.4ZM1390.4 3944.5L1407.95 3974.9L1372.85 3974.9ZM1502.8 4028L1520.35 4058.4L1485.25 4058.4ZM1615.5 4032.5L1633.05 4062.9L1597.95 4062.9ZM1728.4 4067L1745.95 4097.4L1710.85 4097.4ZM1841.4 4068.8L1858.95 4099.2L1823.85 4099.2Z"/>
</g>
<g stroke="#0000ff">
<polyline stroke-width="10.2" stroke-linejoin="round" points="484.4,3273.5 597.2,3419 710,3540.7 822.65,3593 935.65,3625.2 1048.65,3740.5 1161.3,3784 1277.4,3864.3 1390.4,3962.5 1502.8,4070.6 1615.5,4070.5 1728.4,4101.5 1841.4,4101.5"/>
<path stroke-linejoin="miter" d="M484.4 3253L501.95 3283.4L466.85 3283.4ZM597.2 3398.5L614.75 3428.9L579.65 3428.9ZM710 3520.2L727.55 3550.6L692.45 3550.6ZM822.65 3572.5L840.2 3602.9L805.1 3602.9ZM935.65 3604.7L953.2 3635.1L918.1 3635.1ZM1048.65 3720L1066.2 3750.4L1031.1 3750.4ZM1161.3 3763.5L1178.85 3793.9L1143.75 3793.9ZM1277.4 3843.8L1294.95 3874.2L1259.85 3874.2ZM1390.4 3942L1407.95 3972.4L1372.85 3972.4ZM1502.8 4050.1L1520.35 4080.5L1485.25 4080.5ZM1615.5 4050L1633.05 4080.4L1597.95 4080.4ZM1728.4 4081L1745.95 4111.4L1710.85 4111.4ZM1841.4 4081L1858.95 4111.4L1823.85 4111.4Z"/>
</g>
<g stroke="#000000">
<polyline stroke-width="10.2" stroke-linejoin="round" points="484.4,3240.3 597.2,3390.5 710,3522.5 822.65,3590.5 935.65,3637.2 1048.65,3742.3 1161.3,3785.6 1277.4,3869 1390.4,3970.5 1502.8,4095.8 1615.5,4095.4 1728.4,4108.4 1841.4,4111.3"/>
<path stroke-linejoin="miter" d="M484.4 3219.8L501.95 3250.2L466.85 3250.2ZM597.2 3370L614.75 3400.4L579.65 3400.4ZM710 3502L727.55 3532.4L692.45 3532.4ZM822.65 3570L840.2 3600.4L805.1 3600.4ZM935.65 3616.7L953.2 3647.1L918.1 3647.1ZM1048.65 3721.8L1066.2 3752.2L1031.1 3752.2ZM1161.3 3765.1L1178.85 3795.5L1143.75 3795.5ZM1277.4 3848.5L1294.95 3878.9L1259.85 3878.9ZM1390.4 3950L1407.95 3980.4L1372.85 3980.4ZM1502.8 4075.3L1520.35 4105.7L1485.25 4105.7ZM1615.5 4074.9L1633.05 4105.3L1597.95 4105.3ZM1728.4 4087.9L1745.95 4118.3L1710.85 4118.3ZM1841.4 4090.8L1858.95 4121.2L1823.85 4121.2Z"/>
</g>
<g stroke="#ff0000">
<polyline stroke-width="10.2" stroke-linejoin="round" points="484.4,3284.5 597.2,3428.5 710,3547.5 822.65,3597.6 935.65,3631.5 1048.65,3751 1161.3,3795.2 1277.4,3873.3 1390.4,3961.8 1502.8,4083.6 1615.5,4080.3 1728.4,4094 1841.4,4080.7"/>
<path stroke-linejoin="miter" d="M484.4 3264L501.95 3294.4L466.85 3294.4ZM597.2 3408L614.75 3438.4L579.65 3438.4ZM710 3527L727.55 3557.4L692.45 3557.4ZM822.65 3577.1L840.2 3607.5L805.1 3607.5ZM935.65 3611L953.2 3641.4L918.1 3641.4ZM1048.65 3730.5L1066.2 3760.9L1031.1 3760.9ZM1161.3 3774.7L1178.85 3805.1L1143.75 3805.1ZM1277.4 3852.8L1294.95 3883.2L1259.85 3883.2ZM1390.4 3941.3L1407.95 3971.7L1372.85 3971.7ZM1502.8 4063.1L1520.35 4093.5L1485.25 4093.5ZM1615.5 4059.8L1633.05 4090.2L1597.95 4090.2ZM1728.4 4073.5L1745.95 4103.9L1710.85 4103.9ZM1841.4 4060.2L1858.95 4090.6L1823.85 4090.6Z"/>
</g>
<g stroke="#edb120">
<polyline stroke-width="10.2" stroke-linejoin="round" points="484.4,3315.3 597.2,3456.2 710,3572.3 822.65,3612.3 935.65,3644.3 1048.65,3785.6 1161.3,3842.4 1277.4,3907.4 1390.4,3992.3 1502.8,4067.5 1615.5,4076.3 1728.4,4095.7 1841.4,4086.5"/>
<path stroke-linejoin="miter" d="M484.4 3294.8L501.95 3325.2L466.85 3325.2ZM597.2 3435.7L614.75 3466.1L579.65 3466.1ZM710 3551.8L727.55 3582.2L692.45 3582.2ZM822.65 3591.8L840.2 3622.2L805.1 3622.2ZM935.65 3623.8L953.2 3654.2L918.1 3654.2ZM1048.65 3765.1L1066.2 3795.5L1031.1 3795.5ZM1161.3 3821.9L1178.85 3852.3L1143.75 3852.3ZM1277.4 3886.9L1294.95 3917.3L1259.85 3917.3ZM1390.4 3971.8L1407.95 4002.2L1372.85 4002.2ZM1502.8 4047L1520.35 4077.4L1485.25 4077.4ZM1615.5 4055.8L1633.05 4086.2L1597.95 4086.2ZM1728.4 4075.2L1745.95 4105.6L1710.85 4105.6ZM1841.4 4066L1858.95 4096.4L1823.85 4096.4Z"/>
</g>
<g stroke="#ff00ff">
<polyline stroke-width="10.2" stroke-linejoin="round" points="484.4,3275.4 597.2,3412.9 710,3525.4 822.65,3587.6 935.65,3633.9 1048.65,3776 1161.3,3817.5 1277.4,3870.3 1390.4,3954.5 1502.8,4004.3 1615.5,4048.5 1728.4,4064.5 1841.4,4073.5"/>
<path stroke-linejoin="miter" d="M484.4 3254.9L501.95 3285.3L466.85 3285.3ZM597.2 3392.4L614.75 3422.8L579.65 3422.8ZM710 3504.9L727.55 3535.3L692.45 3535.3ZM822.65 3567.1L840.2 3597.5L805.1 3597.5ZM935.65 3613.4L953.2 3643.8L918.1 3643.8ZM1048.65 3755.5L1066.2 3785.9L1031.1 3785.9ZM1161.3 3797L1178.85 3827.4L1143.75 3827.4ZM1277.4 3849.8L1294.95 3880.2L1259.85 3880.2ZM1390.4 3934L1407.95 3964.4L1372.85 3964.4ZM1502.8 3983.8L1520.35 4014.2L1485.25 4014.2ZM1615.5 4028L1633.05 4058.4L1597.95 4058.4ZM1728.4 4044L1745.95 4074.4L1710.85 4074.4ZM1841.4 4053L1858.95 4083.4L1823.85 4083.4Z"/>
</g>
</g>
<path fill="none" stroke="#262626" stroke-width="3.7" d="M417.22 4250v-11M417.22 3082.7v11M483.45 4250v-11M483.45 3082.7v11M530.43 4250v-11M530.43 3082.7v11M566.88 4250v-11M566.88 3082.7v11M596.66 4250v-11M596.66 3082.7v11M621.84 4250v-11M621.84 3082.7v11M643.65 4250v-11M643.65 3082.7v11M662.89 4250v-11M662.89 3082.7v11M680.1 4250v-20.5M680.1 3082.7v20.5M793.32 4250v-11M793.32 3082.7v11M859.55 4250v-11M859.55 3082.7v11M906.53 4250v-11M906.53 3082.7v11M942.98 4250v-11M942.98 3082.7v11M972.76 4250v-11M972.76 3082.7v11M997.94 4250v-11M997.94 3082.7v11M1019.75 4250v-11M1019.75 3082.7v11M1038.99 4250v-11M1038.99 3082.7v11M1056.2 4250v-20.5M1056.2 3082.7v20.5M1169.42 4250v-11M1169.42 3082.7v11M1235.65 4250v-11M1235.65 3082.7v11M1282.63 4250v-11M1282.63 3082.7v11M1319.08 4250v-11M1319.08 3082.7v11M1348.86 4250v-11M1348.86 3082.7v11M1374.04 4250v-11M1374.04 3082.7v11M1395.85 4250v-11M1395.85 3082.7v11M1415.09 4250v-11M1415.09 3082.7v11M1432.3 4250v-20.5M1432.3 3082.7v20.5M1545.52 4250v-11M1545.52 3082.7v11M1611.75 4250v-11M1611.75 3082.7v11M1658.73 4250v-11M1658.73 3082.7v11M1695.18 4250v-11M1695.18 3082.7v11M1724.96 4250v-11M1724.96 3082.7v11M1750.14 4250v-11M1750.14 3082.7v11M1771.95 4250v-11M1771.95 3082.7v11M1791.19 4250v-11M1791.19 3082.7v11M1808.4 4250v-20.5M1808.4 3082.7v20.5M1921.62 4250v-11M1921.62 3082.7v11M1987.85 4250v-11M1987.85 3082.7v11M2034.83 4250v-11M2034.83 3082.7v11M2071.28 4250v-11M2071.28 3082.7v11M2101.06 4250v-11M2101.06 3082.7v11M2126.24 4250v-11M2126.24 3082.7v11M2148.05 4250v-11M2148.05 3082.7v11M2167.29 4250v-11M2167.29 3082.7v11M304 4132.87h11M2184.5 4132.87h-11M304 4064.35h11M2184.5 4064.35h-11M304 4015.74h11M2184.5 4015.74h-11M304 3978.03h11M2184.5 3978.03h-11M304 3947.22h11M2184.5 3947.22h-11M304 3921.17h11M2184.5 3921.17h-11M304 3898.61h11M2184.5 3898.61h-11M304 3878.7h11M2184.5 3878.7h-11M304 3860.9h20.5M2184.5 3860.9h-20.5M304 3743.5h11M2184.5 3743.5h-11M304 3674.82h11M2184.5 3674.82h-11M304 3626.1h11M2184.5 3626.1h-11M304 3588.3h11M2184.5 3588.3h-11M304 3557.42h11M2184.5 3557.42h-11M304 3531.31h11M2184.5 3531.31h-11M304 3508.69h11M2184.5 3508.69h-11M304 3488.75h11M2184.5 3488.75h-11M304 3470.9h20.5M2184.5 3470.9h-20.5M304 3354.04h11M2184.5 3354.04h-11M304 3285.68h11M2184.5 3285.68h-11M304 3237.18h11M2184.5 3237.18h-11M304 3199.56h11M2184.5 3199.56h-11M304 3168.82h11M2184.5 3168.82h-11M304 3142.83h11M2184.5 3142.83h-11M304 3120.32h11M2184.5 3120.32h-11M304 3100.46h11M2184.5 3100.46h-11"/>
<rect x="304" y="3082.7" width="1880.5" height="1167.3" fill="none" stroke="#262626" stroke-width="3.7"/>
<g fill="#262626" stroke="#262626" stroke-width="0.93" stroke-linejoin="round" font-family="'Liberation Serif', serif">
<text x="260.07" y="4325.63" font-size="63.92" textLength="62" lengthAdjust="spacingAndGlyphs">10</text>
<text x="322.23" y="4303.15" font-size="44.55">1</text>
<text x="636.17" y="4325.63" font-size="63.92" textLength="62" lengthAdjust="spacingAndGlyphs">10</text>
<text x="698.33" y="4303.15" font-size="44.55">2</text>
<text x="1012.27" y="4325.63" font-size="63.92" textLength="62" lengthAdjust="spacingAndGlyphs">10</text>
<text x="1074.43" y="4303.15" font-size="44.55">3</text>
<text x="1388.37" y="4325.63" font-size="63.92" textLength="62" lengthAdjust="spacingAndGlyphs">10</text>
<text x="1450.53" y="4303.15" font-size="44.55">4</text>
<text x="1764.47" y="4325.63" font-size="63.92" textLength="62" lengthAdjust="spacingAndGlyphs">10</text>
<text x="1826.63" y="4303.15" font-size="44.55">5</text>
<text x="2140.57" y="4325.63" font-size="63.92" textLength="62" lengthAdjust="spacingAndGlyphs">10</text>
<text x="2202.73" y="4303.15" font-size="44.55">6</text>
<text x="137" y="3098.55" font-size="63.92" textLength="62" lengthAdjust="spacingAndGlyphs">10</text>
<text x="200.3" y="3079.59" font-size="44.55" stroke="none" textLength="32.17" lengthAdjust="spacingAndGlyphs">−</text>
<text x="233.86" y="3074.72" font-size="44.55">12</text>
<text x="137" y="3486.75" font-size="63.92" textLength="62" lengthAdjust="spacingAndGlyphs">10</text>
<text x="200.3" y="3467.79" font-size="44.55" stroke="none" textLength="32.17" lengthAdjust="spacingAndGlyphs">−</text>
<text x="233.86" y="3462.92" font-size="44.55">13</text>
<text x="137" y="3876.75" font-size="63.92" textLength="62" lengthAdjust="spacingAndGlyphs">10</text>
<text x="200.3" y="3857.79" font-size="44.55" stroke="none" textLength="32.17" lengthAdjust="spacingAndGlyphs">−</text>
<text x="233.86" y="3852.92" font-size="44.55">14</text>
<text x="137" y="4265.85" font-size="63.92" textLength="62" lengthAdjust="spacingAndGlyphs">10</text>
<text x="200.3" y="4246.89" font-size="44.55" stroke="none" textLength="32.17" lengthAdjust="spacingAndGlyphs">−</text>
<text x="233.86" y="4242.02" font-size="44.55">15</text>
<text x="1239.07" y="4417.31" font-size="68.89" stroke-width="0.31" text-anchor="middle">Average Time(s)</text>
<text transform="translate(104.05 3669.77) rotate(-90)" font-size="66.82" text-anchor="middle" textLength="711.94" lengthAdjust="spacingAndGlyphs">Modified Allan Deviation</text>
</g>
<rect x="1843.1" y="3135.5" width="287.7" height="428.1" fill="#fff" stroke="#262626" stroke-width="4.04"/>
<g fill="none" stroke-width="9" stroke-miterlimit="10">
<path stroke="#00ff00" d="M1873.9 3178.5H2031.2M1951 3158L1968.55 3188.4L1933.45 3188.4Z"/>
<path stroke="#0000ff" d="M1873.9 3246.95H2031.2M1951 3226.45L1968.55 3256.85L1933.45 3256.85Z"/>
<path stroke="#000000" d="M1873.9 3315.4H2031.2M1951 3294.9L1968.55 3325.3L1933.45 3325.3Z"/>
<path stroke="#ff0000" d="M1873.9 3383.85H2031.2M1951 3363.35L1968.55 3393.75L1933.45 3393.75Z"/>
<path stroke="#edb120" d="M1873.9 3452.3H2031.2M1951 3431.8L1968.55 3462.2L1933.45 3462.2Z"/>
<path stroke="#ff00ff" d="M1873.9 3520.75H2031.2M1951 3500.25L1968.55 3530.65L1933.45 3530.65Z"/>
</g>
<g fill="#000" stroke="#000" stroke-width="1.2" stroke-linejoin="round" font-family="'Liberation Serif', serif" font-size="54.2">
<text x="2046" y="3197.3">B1</text>
<text x="2046" y="3265.75">B2</text>
<text x="2046" y="3334.2">B3</text>
<text x="2046" y="3402.65">B4</text>
<text x="2046" y="3471.1">G</text>
<text x="2046" y="3539.55">E</text>
</g>
</g>
</svg>
</body>
</html>
